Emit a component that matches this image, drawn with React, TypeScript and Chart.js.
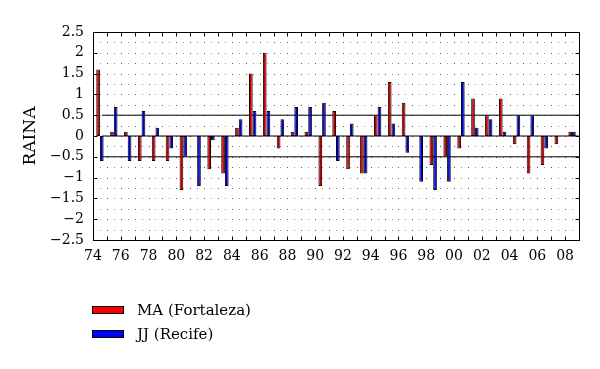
import React, { useEffect, useRef } from 'react';
import { Chart, registerables } from 'chart.js';

Chart.register(...registerables);

const years = [
  1974, 1975, 1976, 1977, 1978, 1979, 1980, 1981, 1982, 1983, 1984, 1985,
  1986, 1987, 1988, 1989, 1990, 1991, 1992, 1993, 1994, 1995, 1996, 1997,
  1998, 1999, 2000, 2001, 2002, 2003, 2004, 2005, 2006, 2007, 2008,
];
const maFortaleza = [
  1.6, 0.1, 0.1, -0.6, -0.6, -0.6, -1.3, 0, -0.8, -0.9, 0.2, 1.5,
  2.0, -0.3, 0.1, 0.1, -1.2, 0.6, -0.8, -0.9, 0.5, 1.3, 0.8, 0,
  -0.7, -0.5, -0.3, 0.9, 0.5, 0.9, -0.2, -0.9, -0.7, -0.2, 0.1,
];
const jjRecife = [
  -0.6, 0.7, -0.6, 0.6, 0.2, -0.3, -0.5, -1.2, -0.1, -1.2, 0.4, 0.6,
  0.6, 0.4, 0.7, 0.7, 0.8, -0.6, 0.3, -0.9, 0.7, 0.3, -0.4, -1.1,
  -1.3, -1.1, 1.3, 0.2, 0.4, 0.1, 0.5, 0.5, -0.3, 0, 0.1,
];
const thresholds = [0.5, 0, -0.5];
const seriesLabels = ['MA (Fortaleza)', 'JJ (Recife)'];
const xMin = 1974;
const xMax = 2009;
const lineStart = 1974.65;
const yMin = -2.5;
const yMax = 2.5;

const FONT = "'DejaVu Serif', 'Liberation Serif', serif";

const isHalfStep = (v: number) => Math.abs(v * 2 - Math.round(v * 2)) < 1e-9;

const dotGrid = {
  id: 'dotGrid',
  beforeDatasetsDraw(chart: any) {
    const { ctx, chartArea: a, scales } = chart;
    const x = scales.x;
    const y = scales.y;
    ctx.save();
    const xs = x.ticks.map((t: any) => Math.round(x.getPixelForValue(t.value)));
    const ys = y.ticks.map((t: any) => Math.round(y.getPixelForValue(t.value)));
    ctx.fillStyle = '#555';
    xs.forEach((px: number) => {
      if (px <= a.left + 1 || px >= a.right - 1) return;
      ys.forEach((py: number) => {
        if (py <= a.top + 1 || py >= a.bottom - 1) return;
        ctx.fillRect(px, py, 1, 1);
      });
    });
    ctx.fillStyle = '#999';
    x.ticks.forEach((t: any) => {
      const mx = Math.round(x.getPixelForValue(t.value + 0.5));
      if (mx <= a.left + 1 || mx >= a.right - 1) return;
      ys.forEach((py: number) => {
        if (py <= a.top + 1 || py >= a.bottom - 1) return;
        ctx.fillRect(mx, py, 1, 1);
      });
    });
    ctx.restore();
  },
};

const frameTicks = {
  id: 'frameTicks',
  afterDraw(chart: any) {
    const { ctx, chartArea: a, scales } = chart;
    const x = scales.x;
    const y = scales.y;
    const L = Math.round(a.left) + 0.5;
    const R = Math.round(a.right) + 0.5;
    const T = Math.round(a.top) + 0.5;
    const B = Math.round(a.bottom) + 0.5;
    ctx.save();
    ctx.setLineDash([]);
    ctx.strokeStyle = '#000';
    ctx.lineWidth = 1;
    ctx.beginPath();
    x.ticks.forEach((t: any) => {
      const px = Math.round(x.getPixelForValue(t.value)) + 0.5;
      ctx.moveTo(px, T);
      ctx.lineTo(px, T + 4);
      ctx.moveTo(px, B);
      ctx.lineTo(px, B - 4);
    });
    y.ticks.forEach((t: any) => {
      if (!isHalfStep(t.value)) return;
      const py = Math.round(y.getPixelForValue(t.value)) + 0.5;
      ctx.moveTo(L, py);
      ctx.lineTo(L + 4, py);
      ctx.moveTo(R, py);
      ctx.lineTo(R - 4, py);
    });
    ctx.stroke();
    ctx.strokeRect(L, T, R - L, B - T);
    ctx.restore();
  },
};

export default function App() {
  const ref = useRef<HTMLCanvasElement>(null);

  useEffect(() => {
    if (!ref.current) return;
    const barData = (vals: number[]) => vals.map((v, i) => ({ x: years[i] + 0.5, y: v }));
    const chart = new Chart(ref.current, {
      type: 'bar',
      data: {
        datasets: [
          {
            type: 'bar',
            label: seriesLabels[0],
            data: barData(maFortaleza),
            backgroundColor: '#c00000',
            borderColor: '#250000',
            borderWidth: 1,
            borderSkipped: false,
            categoryPercentage: 0.53,
            barPercentage: 1,
          } as any,
          {
            type: 'bar',
            label: seriesLabels[1],
            data: barData(jjRecife),
            backgroundColor: '#0000c0',
            borderColor: '#000025',
            borderWidth: 1,
            borderSkipped: false,
            categoryPercentage: 0.53,
            barPercentage: 1,
          } as any,
          ...thresholds.map(
            (t) =>
              ({
                type: 'line',
                label: 'ref ' + t,
                data: [
                  { x: lineStart, y: t },
                  { x: xMax, y: t },
                ],
                borderColor: '#000',
                borderWidth: 1,
                pointRadius: 0,
                fill: false,
              } as any)
          ),
        ],
      },
      options: {
        animation: false,
        responsive: false,
        devicePixelRatio: 1,
        layout: { padding: { top: 32, right: 21, bottom: 0, left: 0 } },
        plugins: { legend: { display: false }, tooltip: { enabled: false } },
        scales: {
          x: {
            type: 'linear',
            min: xMin,
            max: xMax,
            offset: false,
            afterFit: (s: any) => {
              s.height = 129;
            },
            grid: { display: false, offset: false, drawTicks: false },
            border: { display: false },
            ticks: {
              stepSize: 1,
              autoSkip: false,
              maxRotation: 0,
              padding: 8,
              color: '#000',
              font: { family: FONT, size: 14 },
              callback: (v: any) => {
                const n = Number(v);
                if (n % 2 !== 0) return '';
                return String(n % 100).padStart(2, '0');
              },
            },
          },
          y: {
            min: yMin,
            max: yMax,
            afterFit: (s: any) => {
              s.width = 93;
            },
            grid: { display: false, drawTicks: false },
            border: { display: false },
            title: {
              display: true,
              text: 'RAINA',
              color: '#000',
              font: { family: FONT, size: 17 },
              padding: { top: 20, bottom: 0 },
            },
            ticks: {
              stepSize: 0.25,
              autoSkip: false,
              padding: 9,
              color: '#000',
              font: { family: FONT, size: 14 },
              callback: (v: any) => {
                const n = Number(v);
                if (!isHalfStep(n)) return '';
                const r = Math.round(n * 2) / 2;
                return r < 0 ? '\u2212' + String(-r) : String(r);
              },
            },
          },
        },
      },
      plugins: [dotGrid, frameTicks],
    });
    return () => chart.destroy();
  }, []);

  const legendItem = (label: string, color: string, top: number) => (
    <div
      style={{
        position: 'absolute',
        left: 92,
        top: top - 10,
        height: 20,
        display: 'flex',
        alignItems: 'center',
        whiteSpace: 'nowrap',
      }}
    >
      <div
        style={{
          width: 32,
          height: 8,
          boxSizing: 'border-box',
          border: '1px solid #000',
          background: color,
          marginRight: 13,
        }}
      />
      <span style={{ fontFamily: FONT, fontSize: 15, color: '#000', lineHeight: '20px' }}>{label}</span>
    </div>
  );

  return (
    <div style={{ position: 'absolute', left: 0, top: 0, width: 600, height: 369, background: '#fff' }}>
      <canvas ref={ref} width={600} height={369} style={{ display: 'block' }} />
      {legendItem(seriesLabels[0], '#ff0000', 310)}
      {legendItem(seriesLabels[1], '#0000ff', 334)}
    </div>
  );
}
